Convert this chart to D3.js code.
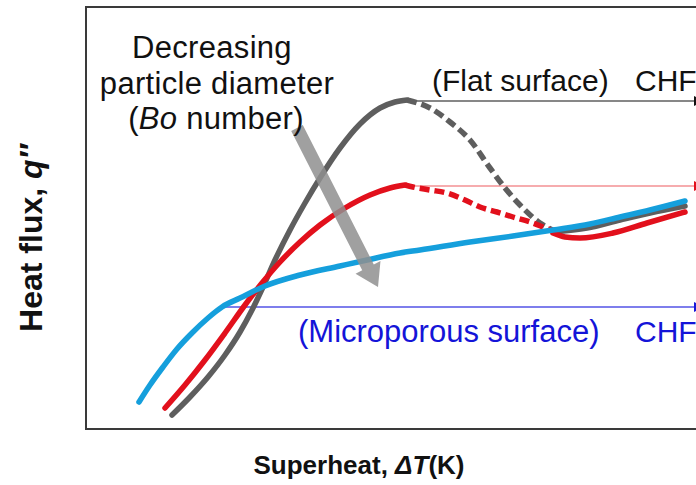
<!DOCTYPE html>
<html>
<head>
<meta charset="utf-8">
<script src="https://cdn.jsdelivr.net/npm/d3@7"></script>
<style>
  html, body { margin: 0; padding: 0; background: #fff; }
  svg { display: block; }
  text { font-family: "Liberation Sans", Arial, sans-serif; }
</style>
</head>
<body>
<svg id="chart" width="696" height="485"></svg>
<script>
// Boiling curves: superheat ΔT (arbitrary units) vs heat flux q″ (arbitrary units)
const flatNucleate = [[8.6,1.4],[10.4,3.2],[12.2,5.2],[13.9,7.4],[15.4,9.7],[16.6,11.9],[17.7,14.2],[18.9,16.9],[20.4,19.9],[21.9,22.6],[23.4,25.1],[25.4,28.1],[27.4,30.5],[29.4,32.1],[30.9,32.7],[32.1,32.9]];
const flatTransition = [[32.1,32.9],[34.4,32.1],[36.4,30.7],[38.4,28.9],[40.4,26.1],[41.9,24.1],[43.4,22.4],[45.4,20.6],[46.9,19.8]];
const flatFilm = [[46.7,19.7],[50.1,20.1],[53.4,20.9],[56.4,21.6],[59.9,22.3]];

const midNucleate = [[7.9,2.1],[9.9,4.4],[11.9,6.9],[13.9,9.6],[15.9,12.4],[17.6,14.6],[19.4,16.7],[21.4,18.7],[23.4,20.4],[25.9,22.1],[28.4,23.4],[30.4,24.1],[31.9,24.4]];
const midTransition = [[31.9,24.4],[32.7,24.2],[34.4,23.9],[36.1,23.6],[37.9,22.9],[39.4,22.2],[41.1,21.7],[42.7,21.2],[44.4,20.7],[45.7,20.2],[46.7,19.8]];
const midFilm = [[46.7,19.6],[47.9,19.2],[49.4,19.1],[52.7,19.6],[56.1,20.6],[59.9,21.7]];

const microporous = [[5.3,2.7],[6.4,4.4],[7.7,6.2],[9.1,8.0],[10.6,9.6],[12.2,11.1],[13.6,12.2],[15.4,13.1],[17.9,14.3],[21.4,15.4],[25.4,16.3],[28.1,16.9],[31.4,17.6],[33.4,17.9],[38.4,18.7],[42.7,19.3],[46.7,19.9],[50.4,20.5],[53.4,21.2],[56.4,21.9],[59.9,22.8]];

// Critical heat flux levels: [start ΔT, q″]
const chfFlat = [32.1, 32.8];
const chfMid = [32.4, 24.3];
const chfMicro = [13.4, 12.2];

// Trend arrow: decreasing particle diameter (Bo number)
const trendArrow = [[21.1, 30.1], [29.2, 14.2]];

const annotation = ["Decreasing", "particle diameter"];

const svg = d3.select("#chart");
const x = d3.scaleLinear().domain([0, 62]).range([86, 706]);
const y = d3.scaleLinear().domain([0, 42.2]).range([429, 7]);

const line = d3.line().x(d => x(d[0])).y(d => y(d[1])).curve(d3.curveMonotoneX);

const grey = "#5e5e5e", red = "#e2101c", blue = "#159fdc";

// Frame
svg.append("rect")
  .attr("x", x(0)).attr("y", y(42.2))
  .attr("width", 640).attr("height", y(0) - y(42.2))
  .attr("fill", "none").attr("stroke", "#3a3a3a").attr("stroke-width", 2);

// CHF reference lines with end markers
const defs = svg.append("defs");
function marker(id, color) {
  defs.append("marker").attr("id", id)
    .attr("viewBox", "0 0 10 10").attr("refX", 0).attr("refY", 5)
    .attr("markerWidth", 10).attr("markerHeight", 10)
    .attr("markerUnits", "userSpaceOnUse").attr("orient", "auto")
    .append("path").attr("d", "M0,0L10,5L0,10Z").attr("fill", color);
}
marker("mk-black", "#111");
marker("mk-red", "#e2101c");
marker("mk-blue", "#1818d8");

function chfLine(pt, color, mk, w) {
  svg.append("line")
    .attr("x1", x(pt[0])).attr("x2", x(60.8))
    .attr("y1", y(pt[1])).attr("y2", y(pt[1]))
    .attr("stroke", color).attr("stroke-width", w)
    .attr("marker-end", `url(#${mk})`);
}
chfLine(chfFlat, "#111", "mk-black", 1.2);
chfLine(chfMid, "#ee5a5f", "mk-red", 1.2);
chfLine(chfMicro, "#5353e6", "mk-blue", 1.4);

// Curves
function curve(data, color, dashed) {
  svg.append("path").datum(data)
    .attr("d", line)
    .attr("fill", "none").attr("stroke", color)
    .attr("stroke-width", 5.5)
    .attr("stroke-linecap", dashed ? "butt" : "round")
    .attr("stroke-dasharray", dashed ? "10,5" : null);
}
curve(flatNucleate, grey, false);
curve(flatTransition, grey, true);
curve(flatFilm, grey, false);
curve(midNucleate, red, false);
curve(midTransition, red, true);
curve(midFilm, red, false);
curve(microporous, blue, false);

// Trend arrow
{
  const [p0, p1] = trendArrow.map(d => [x(d[0]), y(d[1])]);
  const dx = p1[0] - p0[0], dy = p1[1] - p0[1];
  const L = Math.hypot(dx, dy);
  const ux = dx / L, uy = dy / L, nx = -uy, ny = ux;
  const hl = 22, hw = 14, sw = 6.5;
  const b = [p1[0] - ux * hl, p1[1] - uy * hl];
  const pts = [
    [p0[0] + nx * sw, p0[1] + ny * sw],
    [b[0] + nx * sw, b[1] + ny * sw],
    [b[0] + nx * hw, b[1] + ny * hw],
    p1,
    [b[0] - nx * hw, b[1] - ny * hw],
    [b[0] - nx * sw, b[1] - ny * sw],
    [p0[0] - nx * sw, p0[1] - ny * sw]
  ];
  svg.append("path")
    .attr("d", "M" + pts.map(p => p.join(",")).join("L") + "Z")
    .attr("fill", "#8f8f8f").attr("opacity", 0.85);
}

// Annotation text (three centred lines)
const ann = svg.append("g").attr("font-size", 31).attr("fill", "#111")
  .attr("text-anchor", "middle").attr("letter-spacing", 0.3);
ann.append("text").attr("x", 212).attr("y", 58).text(annotation[0]);
ann.append("text").attr("x", 217).attr("y", 93.5).text(annotation[1]);
const bo = ann.append("text").attr("x", 216).attr("y", 129);
bo.append("tspan").text("(");
bo.append("tspan").attr("font-style", "italic").text("Bo");
bo.append("tspan").text(" number)");

svg.append("text").attr("x", 432).attr("y", 91).attr("font-size", 30).attr("fill", "#111")
  .text("(Flat surface)");
svg.append("text").attr("x", 635).attr("y", 91).attr("font-size", 30).attr("fill", "#111")
  .text("CHF");

svg.append("text").attr("x", 298).attr("y", 342).attr("font-size", 31).attr("fill", "#1414d8")
  .text("(Microporous surface)");
svg.append("text").attr("x", 635).attr("y", 342).attr("font-size", 30).attr("fill", "#1414d8")
  .text("CHF");

// Axis titles
const xt = svg.append("text").attr("x", 359).attr("y", 474)
  .attr("text-anchor", "middle").attr("font-size", 26).attr("font-weight", "bold").attr("fill", "#111");
xt.append("tspan").text("Superheat, ");
xt.append("tspan").attr("font-style", "italic").text("ΔT");
xt.append("tspan").text("(K)");

const yt = svg.append("text").attr("transform", "translate(42,238) rotate(-90)")
  .attr("text-anchor", "middle").attr("font-size", 32).attr("font-weight", "bold").attr("fill", "#111");
yt.append("tspan").text("Heat flux, ");
yt.append("tspan").attr("font-style", "italic").text("q″");
</script>
</body>
</html>
